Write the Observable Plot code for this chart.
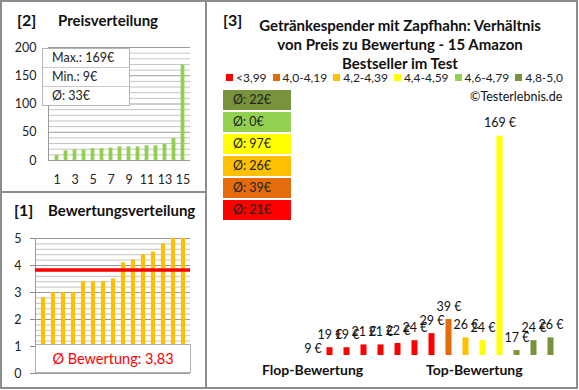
<!DOCTYPE html>
<html>
<head>
<meta charset="utf-8">
<script src="https://cdn.jsdelivr.net/npm/d3@7"></script>
<script src="https://cdn.jsdelivr.net/npm/@observablehq/plot@0.6"></script>
<style>
  html, body { margin: 0; padding: 0; background: #fff; }
  #wrap { position: relative; width: 579px; height: 390px; overflow: hidden; font-family: Lato, "Open Sans", sans-serif; color: #222; }
  .abs { position: absolute; }
  .panel { position: absolute; box-sizing: border-box; border: 2px solid #8c8c8c; pointer-events: none; }
  .ttl { position: absolute; font-weight: bold; font-size: 15px; line-height: 18px; white-space: nowrap; color: #111; }
  .num { position: absolute; font-weight: bold; font-size: 16px; line-height: 18px; color: #111; }
  .statbox { position: absolute; left: 42px; top: 48px; width: 88px; background: #fff; border: 1px solid #b5b5b5; box-sizing: border-box; }
  .statbox div { height: 18px; line-height: 18px; font-size: 12.5px; padding-left: 9px; border-top: 1px solid #c8c8c8; }
  .statbox div:first-child { border-top: none; }
  .avgbox { position: absolute; box-sizing: border-box; width: 68px; height: 20px; line-height: 20px; font-size: 12.5px; padding-left: 10px; color: #222; }
  .legend { position: absolute; left: 226px; top: 71px; width: 337px; display: flex; justify-content: space-between; font-size: 12px; line-height: 14px; white-space: nowrap; }
  .legend span.sq { display: inline-block; width: 7px; height: 7px; margin-right: 3px; vertical-align: 1px; }
</style>
</head>
<body>
<div id="wrap"></div>
<script>
// ---------- data ----------
const ranks = [1,2,3,4,5,6,7,8,9,10,11,12,13,14,15];
const rankTicks = [1,3,5,7,9,11,13,15];
const pricesSorted = [9,17,19,19,21,21,22,24,24,24,26,26,29,39,169];
const priceTicks = [0,50,100,150,200];
const ratingsSorted = [2.8,3.0,3.0,3.0,3.4,3.4,3.4,3.5,4.1,4.2,4.4,4.5,4.8,5.0,5.0];
const ratingTicks = [0,1,2,3,4,5];
// panel 3: products ordered by rating (flop -> top)
const productPrices = [9,19,19,21,21,22,24,29,39,26,24,169,17,24,26];
const productRatings = [2.8,3.0,3.0,3.0,3.4,3.4,3.4,3.5,4.1,4.2,4.4,4.5,4.8,5.0,5.0];
const catLabels = ["<3,99","4,0-4,19","4,2-4,39","4,4-4,59","4,6-4,79","4,8-5,0"];
const catUpper = [4.0,4.2,4.4,4.6,4.8,Infinity];
const catColors = ["#FF0000","#E46C0A","#FFC000","#FFFF00","#92D050","#77933C"];

const wrap = document.getElementById("wrap");
const catOf = r => catLabels[catUpper.findIndex(u => r < u)];

function place(el, left, top) {
  el.style.position = "absolute";
  el.style.left = left + "px";
  el.style.top = top + "px";
  el.style.background = "transparent";
  wrap.appendChild(el);
}
function add(html) { wrap.insertAdjacentHTML("beforeend", html); }

// ---------- [2] Preisverteilung ----------
const priceData = ranks.map((r, i) => ({rank: r, price: pricesSorted[i]}));
const p2 = Plot.plot({
  width: 205, height: 191,
  marginTop: 47, marginBottom: 31, marginLeft: 48, marginRight: 15,
  style: {fontFamily: "Lato, sans-serif", fontSize: "12.5px", color: "#222", background: "transparent"},
  x: {type: "band", domain: ranks, padding: 0},
  y: {domain: [0, 200]},
  marks: [
    Plot.ruleY(d3.range(0, 201, 10).filter(v => v % 50 !== 0), {stroke: "#c4c4c4"}),
    Plot.ruleY(d3.range(0, 201, 50), {stroke: "#9a9a9a"}),
    Plot.frame({anchor: "left", stroke: "#9a9a9a"}),
    Plot.barY(priceData, {x: "rank", y: "price", fill: "#92D050", insetLeft: 2.6, insetRight: 2.6}),
    Plot.axisY({ticks: priceTicks, tickSize: 0, tickPadding: 12, label: null}),
    Plot.axisX({ticks: rankTicks, tickSize: 0, tickPadding: 15, label: null})
  ]
});
place(p2, 0, 0);

// ---------- [1] Bewertungsverteilung ----------
const ratingData = ranks.map((r, i) => ({rank: r, rating: ratingsSorted[i]}));
const avgRating = d3.mean(ratingsSorted);
const p1 = Plot.plot({
  width: 205, height: 197,
  marginTop: 47, marginBottom: 15, marginLeft: 35, marginRight: 15,
  style: {fontFamily: "Lato, sans-serif", fontSize: "12.5px", color: "#222", background: "transparent"},
  x: {type: "band", domain: ranks, padding: 0, axis: null},
  y: {domain: [0, 5]},
  marks: [
    Plot.ruleY(d3.range(0, 25).map(k => k / 5).filter((v, k) => k % 5 !== 0), {stroke: "#c4c4c4"}),
    Plot.ruleY(ratingTicks, {stroke: "#9a9a9a"}),
    Plot.frame({anchor: "left", stroke: "#9a9a9a"}),
    Plot.barY(ratingData, {x: "rank", y: "rating", fill: "#FFC000", insetLeft: 2.9, insetRight: 2.9}),
    Plot.ruleY([avgRating], {stroke: "#FF0000", strokeWidth: 3.5}),
    Plot.axisY({ticks: ratingTicks, tickSize: 5, tickPadding: 9, stroke: "#8c8c8c", tickFormat: d => String(d), label: null})
  ]
});
place(p1, 0, 191);

// ---------- [3] Preis zu Bewertung ----------
const products = productPrices.map((p, i) => ({i: i + 1, price: p, rating: productRatings[i], cat: catOf(productRatings[i])}));
const p3 = Plot.plot({
  width: 372, height: 388,
  marginTop: 92, marginBottom: 33, marginLeft: 98.5, marginRight: 0,
  style: {fontFamily: "Lato, sans-serif", fontSize: "12px", color: "#111", background: "transparent"},
  x: {type: "band", domain: products.map(d => d.i), paddingInner: 0, paddingOuter: 0.544, align: 0, axis: null},
  y: {domain: [13.5, 200], axis: null},
  color: {domain: catLabels, range: catColors},
  marks: [
    Plot.barY(products, {x: "i", y: "price", fill: "cat", insetLeft: 5.5, insetRight: 5.5, clip: true}),
    Plot.text(products, {x: "i", y: "price", text: d => `${d.price} €`, dy: -13, fontSize: 12.5, fill: "#111", clip: true})
  ]
});
place(p3, 205, 0);

// ---------- HTML texts / boxes ----------
add(`<div class="num" style="left:17px;top:11px">[2]</div>`);
add(`<div class="ttl" style="left:58px;top:11px">Preisverteilung</div>`);
const priceAvg = Math.round(d3.mean(pricesSorted));
add(`<div class="statbox"><div>Max.: ${d3.max(pricesSorted)}€</div><div>Min.: ${d3.min(pricesSorted)}€</div><div>Ø: ${priceAvg}€</div></div>`);

add(`<div class="num" style="left:14px;top:201px">[1]</div>`);
add(`<div class="ttl" style="left:48px;top:201px">Bewertungsverteilung</div>`);
add(`<div class="abs" style="left:35px;top:344px;width:156px;height:29px;box-sizing:border-box;background:#fff;border:1px solid #b0b0b0;color:#FF0000;font-size:14.5px;line-height:27px;text-align:center">Ø Bewertung: ${avgRating.toFixed(2).replace(".", ",")}</div>`);

add(`<div class="num" style="left:223px;top:11px">[3]</div>`);
add(`<div class="ttl" style="left:240px;width:320px;top:16px;text-align:center;white-space:normal;line-height:19px">Getränkespender mit Zapfhahn: Verhältnis<br>von Preis zu Bewertung - 15 Amazon<br>Bestseller im Test</div>`);
add(`<div class="legend">${catLabels.map((c, k) => `<span><span class="sq" style="background:${catColors[k]}"></span>${c}</span>`).join("")}</div>`);
add(`<div class="abs" style="left:470px;top:90px;font-size:12.5px;line-height:14px;color:#111">©Testerlebnis.de</div>`);

catLabels.slice().reverse().forEach((c, j) => {
  const k = catLabels.length - 1 - j;
  const vals = products.filter(d => d.cat === c).map(d => d.price);
  const avg = vals.length ? Math.round(d3.mean(vals)) : 0;
  add(`<div class="avgbox" style="left:223px;top:${90 + 22 * j}px;background:${catColors[k]}">Ø: ${avg}€</div>`);
});

add(`<div class="ttl" style="left:262px;top:361px;font-size:14px">Flop-Bewertung</div>`);
add(`<div class="ttl" style="left:426px;top:361px;font-size:14px">Top-Bewertung</div>`);

// ---------- panel borders ----------
add(`<div class="panel" style="left:0;top:0;width:207px;height:193px"></div>`);
add(`<div class="panel" style="left:0;top:191px;width:207px;height:198px"></div>`);
add(`<div class="panel" style="left:205px;top:0;width:373px;height:389px"></div>`);
</script>
</body>
</html>
